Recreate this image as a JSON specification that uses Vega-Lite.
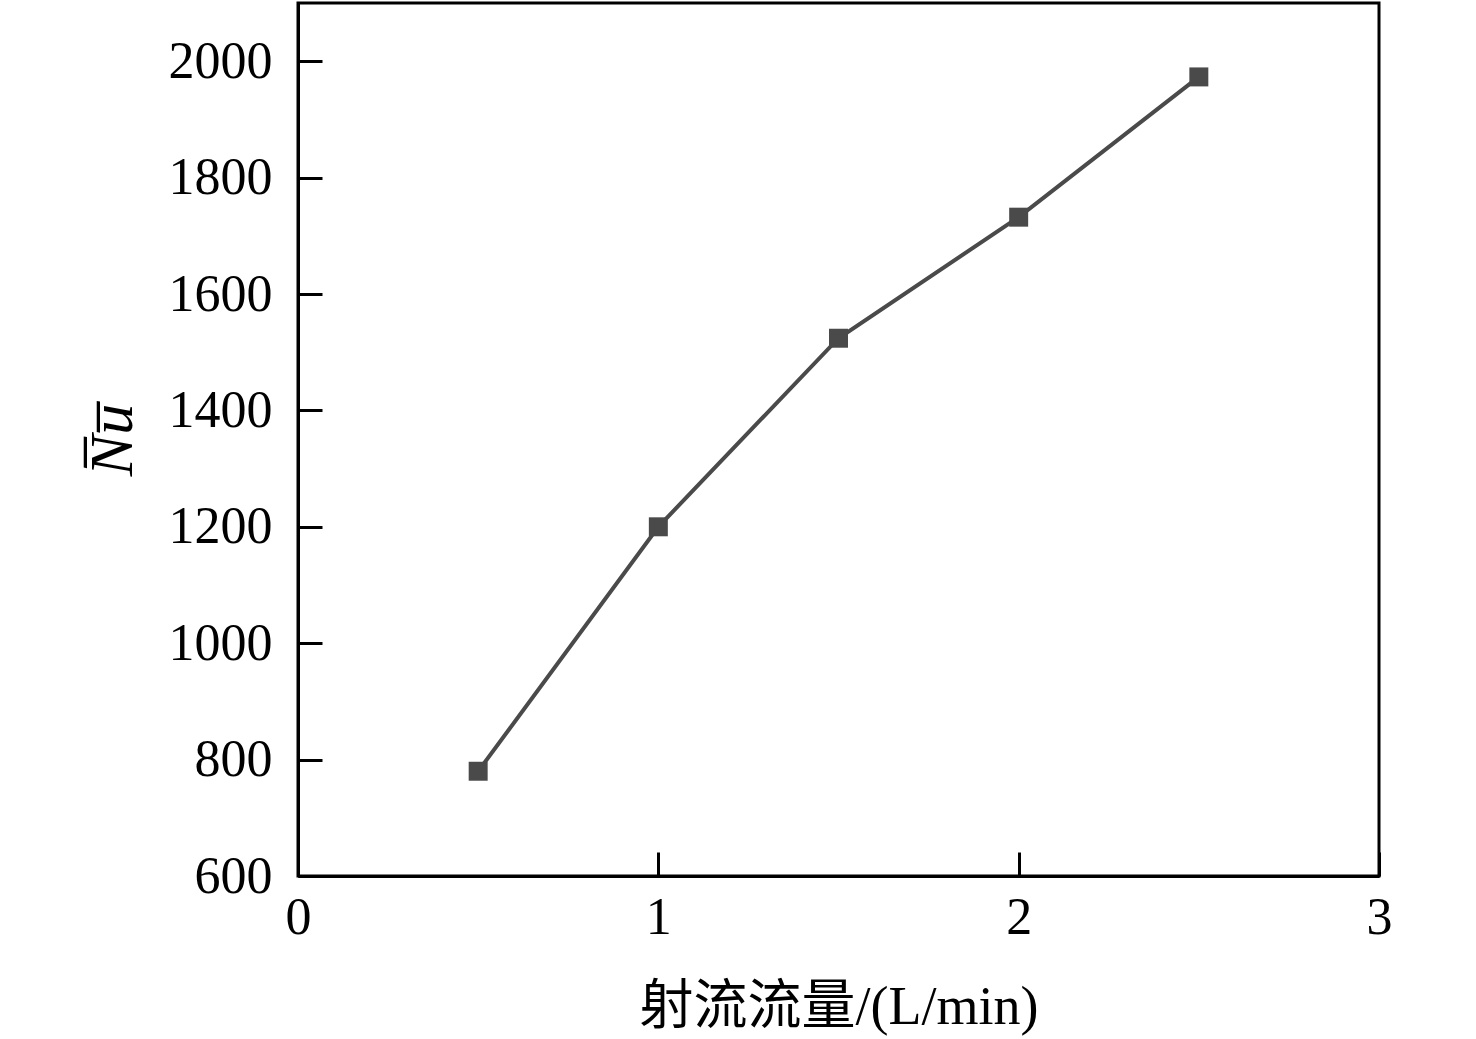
{
  "$schema": "https://vega.github.io/schema/vega-lite/v6.json",
  "width": 1081,
  "height": 873,
  "autosize": "none",
  "padding": {"left": 298, "top": 3, "right": 97, "bottom": 163},
  "background": "white",
  "data": {
    "values": [
      {"flow": 0.5, "nu": 780},
      {"flow": 1.0, "nu": 1200},
      {"flow": 1.5, "nu": 1524},
      {"flow": 2.0, "nu": 1732},
      {"flow": 2.5, "nu": 1973}
    ]
  },
  "layer": [
    {
      "mark": {"type": "line", "color": "#4a4a4a", "strokeWidth": 4},
      "encoding": {
        "x": {"field": "flow", "type": "quantitative"},
        "y": {"field": "nu", "type": "quantitative"}
      }
    },
    {
      "mark": {"type": "point", "shape": "square", "filled": true, "size": 360, "color": "#4a4a4a", "opacity": 1},
      "encoding": {
        "x": {"field": "flow", "type": "quantitative"},
        "y": {"field": "nu", "type": "quantitative"}
      }
    }
  ],
  "encoding": {
    "x": {
      "field": "flow", "type": "quantitative",
      "scale": {"domain": [0, 3], "nice": false},
      "axis": {"values": [0, 1, 2, 3], "format": "d", "labelPadding": 40, "title": "射流流量/(L/min)", "titlePadding": 37, "titleFontSize": 54}
    },
    "y": {
      "field": "nu", "type": "quantitative",
      "scale": {"domain": [600, 2100], "nice": false},
      "axis": {"values": [600, 800, 1000, 1200, 1400, 1600, 1800, 2000], "format": "d", "labelPadding": 50, "title": "N̅u̅", "titleFontStyle": "italic", "titleFontSize": 62, "titlePadding": 24}
    }
  },
  "config": {
    "font": "Liberation Serif",
    "view": {"stroke": "black", "strokeWidth": 3},
    "axis": {
      "grid": false,
      "domainColor": "black",
      "domainWidth": 3,
      "tickColor": "black",
      "tickWidth": 3,
      "tickSize": -24,
      "labelFont": "Liberation Serif",
      "labelFontSize": 52,
      "labelColor": "black",
      "titleFont": "Liberation Serif, Noto Sans CJK SC",
      "titleFontWeight": "normal",
      "titleColor": "black",
      "labelFlush": false,
      "labelOverlap": false
    }
  }
}
